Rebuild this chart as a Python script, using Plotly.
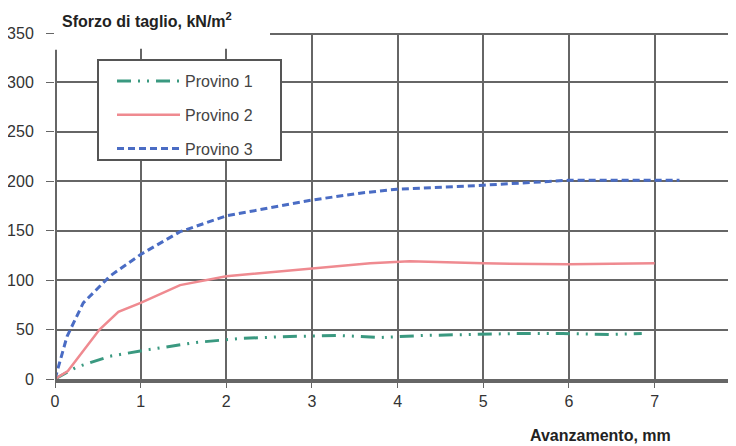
import plotly.graph_objects as go

# Data
p1_x = [0, 0.25, 0.64, 1.04, 1.65, 2.16, 2.74, 3.33, 3.79, 4.3, 4.84, 5.39, 5.93, 6.48, 6.85]
p1_y = [0, 12, 23, 29, 37, 41, 43, 44, 42, 44, 45, 46, 46, 45, 46]

p2_x = [0, 0.15, 0.52, 0.74, 1.0, 1.46, 2.0, 3.0, 3.68, 4.14, 5.0, 6.0, 7.0]
p2_y = [0, 8, 50, 68, 77, 95, 104, 112, 117, 119, 117, 116, 117]

p3_x = [0, 0.14, 0.33, 0.64, 1.0, 1.46, 2.0, 3.0, 3.56, 3.99, 5.0, 5.99, 7.29]
p3_y = [0, 43, 77, 104, 126, 149, 165, 181, 188, 192, 196, 201, 201]

names = ["Provino 1", "Provino 2", "Provino 3"]
x_ticks = [0, 1, 2, 3, 4, 5, 6, 7]
y_ticks = [0, 50, 100, 150, 200, 250, 300, 350]

GRID = "#666666"
FONT = "Liberation Sans, Arial, sans-serif"

# page is offset by the 8px body margin
OFF = 8
W, H = 736 - OFF, 446 - OFF
L, T, B = 55 - OFF, 33 - OFF, H - (379 - OFF)
PW, PH = W - L, H - T - B


def px(xp):  # page x -> paper
    return (xp - OFF - L) / PW


def py(yp):  # page y -> paper
    return (H - B - (yp - OFF)) / PH


fig = go.Figure()
fig.add_trace(go.Scatter(x=p1_x, y=p1_y, mode="lines", name=names[0], legendgroup="a",
                         line=dict(color="#3a9980", width=3, dash="14px,7px,2px,7px,2px,7px")))
fig.add_trace(go.Scatter(x=p2_x, y=p2_y, mode="lines", name=names[1], legendgroup="b",
                         line=dict(color="#ef8a90", width=2.5)))
fig.add_trace(go.Scatter(x=p3_x, y=p3_y, mode="lines", name=names[2], legendgroup="c",
                         line=dict(color="#4a6cc4", width=3, dash="7px,4px")))

fig.update_layout(
    width=W, height=H,
    margin=dict(l=L, r=0, t=T, b=B, autoexpand=False),
    paper_bgcolor="white", plot_bgcolor="white",
    font=dict(family=FONT, color="#333333"),
    showlegend=True,
    legend=dict(x=px(112), y=py(64), xanchor="left", yanchor="top",
                bgcolor="rgba(0,0,0,0)", borderwidth=0,
                font=dict(size=16, color="#444444"), itemwidth=63,
                tracegroupgap=10),
    xaxis=dict(range=[0, 7.95], tickvals=x_ticks, showgrid=True, gridcolor=GRID, gridwidth=2,
               showline=True, linecolor=GRID, linewidth=4, ticks="outside", ticklen=5,
               tickcolor=GRID, tickfont=dict(size=16, color="#333333"), zeroline=False),
    yaxis=dict(range=[0, 350], tickvals=y_ticks, showgrid=True, gridcolor=GRID, gridwidth=2,
               showline=False, ticks="outside", ticklen=8, tickcolor=GRID, ticklabelstandoff=9,
               tickfont=dict(size=16, color="#333333"), zeroline=False),
    annotations=[
        dict(text="<b>Sforzo di taglio, kN/m<sup>2</sup></b>", xref="paper", yref="paper",
             x=px(60), y=py(20), xanchor="left", yanchor="middle",
             showarrow=False, font=dict(size=16, color="#222222")),
        dict(text="<b>Avanzamento, mm</b>", xref="paper", yref="paper",
             x=px(673), y=py(435), xanchor="right", yanchor="middle",
             showarrow=False, font=dict(size=16, color="#222222")),
    ],
    shapes=[
        dict(type="rect", xref="x", yref="y", x0=-0.05, x1=2.51, y0=334, y1=352,
             fillcolor="white", line=dict(width=0), layer="above"),
        dict(type="line", xref="x", yref="y", x0=2.51, x1=7.95, y0=350, y1=350,
             line=dict(color=GRID, width=4), layer="above"),
        dict(type="line", xref="x", yref="y", x0=0, x1=0, y0=0, y1=333,
             line=dict(color=GRID, width=4), layer="above"),
        dict(type="rect", xref="paper", yref="paper", x0=px(98), x1=px(281),
             y0=py(160), y1=py(60), fillcolor="white",
             line=dict(color="#555555", width=2), layer="above"),
    ],
)

fig.write_html("out.html")
